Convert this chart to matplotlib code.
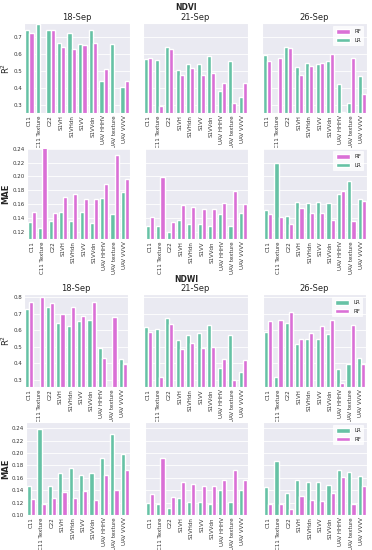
import numpy as np
import matplotlib
matplotlib.use("Agg")
import matplotlib.pyplot as plt
import seaborn as sns

sns.set_style("darkgrid")
plt.rcParams['font.family'] = ['DejaVu Sans']

features = ['C11', 'C11 Texture', 'C22', 'S1VH', 'S1VHdn', 'S1VV', 'S1VVdn',
            'UAV HHHV', 'UAV texture', 'UAV VVVV']
dates = ['18-Sep', '21-Sep', '26-Sep']
nan = np.nan

# NDVI R2  (LR, RF) per date
ndvi_r2_lr = [
    [0.741, 0.772, 0.737, 0.661, 0.721, 0.659, 0.739, 0.440, 0.659, 0.405],
    [0.569, 0.565, 0.639, 0.505, 0.538, 0.540, 0.587, 0.378, 0.559, 0.343],
    [0.593, nan, 0.636, 0.522, 0.544, 0.536, 0.554, 0.419, 0.309, 0.468],
]
ndvi_r2_rf = [
    [0.723, nan, 0.737, 0.636, 0.626, 0.649, 0.663, 0.510, nan, 0.436],
    [0.573, 0.292, 0.624, 0.475, 0.514, 0.473, 0.483, 0.428, 0.311, 0.427],
    [0.554, 0.575, 0.632, 0.471, 0.528, 0.544, 0.595, 0.257, 0.575, 0.360],
]
# NDVI MAE
ndvi_mae_lr = [
    [0.134, 0.126, 0.136, 0.149, 0.136, 0.149, 0.133, 0.169, 0.146, 0.178],
    [0.129, 0.128, 0.120, 0.137, 0.131, 0.131, 0.128, 0.146, 0.128, 0.147],
    [0.152, 0.219, 0.143, 0.163, 0.162, 0.163, 0.162, 0.175, 0.193, 0.167],
]
ndvi_mae_rf = [
    [0.149, 0.245, 0.147, 0.171, 0.175, 0.168, 0.167, 0.189, 0.231, 0.197],
    [0.141, 0.199, 0.135, 0.159, 0.156, 0.153, 0.153, 0.162, 0.179, 0.160],
    [0.146, 0.141, 0.132, 0.155, 0.147, 0.148, 0.138, 0.179, 0.136, 0.165],
]
# NDWI R2
ndwi_r2_lr = [
    [0.731, nan, 0.739, 0.644, 0.624, 0.656, 0.664, 0.490, nan, 0.425],
    [0.620, 0.608, 0.674, 0.543, 0.573, 0.581, 0.632, 0.373, 0.569, 0.345],
    [0.591, 0.318, 0.646, 0.515, 0.547, 0.547, 0.579, 0.367, 0.397, 0.432],
]
ndwi_r2_rf = [
    [0.770, 0.804, 0.766, 0.701, 0.741, 0.685, 0.770, 0.430, 0.679, 0.393],
    [0.591, 0.318, 0.636, 0.488, 0.525, 0.490, 0.500, 0.425, 0.300, 0.421],
    [0.654, 0.662, 0.709, 0.549, 0.585, 0.624, 0.664, 0.282, 0.634, 0.395],
]
# NDWI MAE
ndwi_mae_lr = [
    [0.147, 0.239, 0.147, 0.168, 0.176, 0.165, 0.167, 0.192, 0.231, 0.198],
    [0.119, 0.118, 0.111, 0.127, 0.121, 0.121, 0.117, 0.140, 0.121, 0.140],
    [0.145, 0.187, 0.135, 0.156, 0.153, 0.153, 0.149, 0.173, 0.170, 0.163],
]
ndwi_mae_rf = [
    [0.126, 0.117, 0.127, 0.137, 0.128, 0.139, 0.124, 0.164, 0.140, 0.172],
    [0.134, 0.192, 0.129, 0.153, 0.150, 0.147, 0.147, 0.157, 0.173, 0.156],
    [0.118, 0.118, 0.109, 0.131, 0.125, 0.123, 0.136, 0.161, 0.117, 0.146],
]

c_lr = '#66c2a5'
c_rf = '#da70d6'

W, H = 372, 550
fig = plt.figure(figsize=(W / 100, H / 100), dpi=100)


def add_ax(x0, x1, top, bottom, sharey=None):
    return fig.add_axes([x0 / W, 1 - bottom / H, (x1 - x0) / W, (bottom - top) / H], sharey=sharey)


def draw_row(top, bottom, cols, lr, rf, ylim, yticks, ylabel, legend_order, title=False, bold_label=False):
    x = np.arange(len(features))
    first = None
    for i, (x0, x1) in enumerate(cols):
        ax = add_ax(x0, x1, top, bottom, sharey=first)
        if first is None:
            first = ax
        b1 = ax.bar(x - 0.2, lr[i], 0.4, color=c_lr, label='LR')
        b2 = ax.bar(x + 0.2, rf[i], 0.4, color=c_rf, label='RF')
        ax.set_xlim(-0.5, len(features) - 0.5)
        ax.set_ylim(*ylim)
        ax.set_yticks(yticks)
        ax.grid(axis='x', visible=False)
        ax.grid(axis='y', color='white', linewidth=0.6)
        ax.set_xticks(x)
        ax.set_xticklabels(features, rotation=90, fontsize=4, color='#333333')
        ax.tick_params(axis='both', length=0, pad=1.5)
        ax.tick_params(axis='y', labelsize=4, labelcolor='#333333')
        if i != 0:
            ax.tick_params(axis='y', labelleft=False)
        if title:
            ax.set_title(dates[i], fontsize=6, pad=2)
        if i == 2:
            handles = {'LR': b1, 'RF': b2}
            ax.legend([handles[k] for k in legend_order], legend_order, loc='upper right',
                      fontsize=4, frameon=True, facecolor='white', edgecolor='none',
                      handlelength=2.4, handleheight=0.9, borderpad=0.6, labelspacing=0.6)
    fig.text(6 / W, 1 - (top + bottom) / 2 / H, ylabel, rotation=90, ha='center', va='center',
             fontsize=6, fontweight='bold' if bold_label else 'normal')


draw_row(23, 113, [(24, 130), (143, 248), (262, 367)], ndvi_r2_lr, ndvi_r2_rf,
         (0.25, 0.78), [0.3, 0.4, 0.5, 0.6, 0.7], 'R$^2$', ['RF', 'LR'], title=True)
draw_row(148, 239, [(27, 130), (145, 248), (263, 367)], ndvi_mae_lr, ndvi_mae_rf,
         (0.11, 0.241), [0.12, 0.14, 0.16, 0.18, 0.20, 0.22, 0.24], 'MAE', ['RF', 'LR'], bold_label=True)
draw_row(294, 387, [(24, 128), (143, 248), (263, 366)], ndwi_r2_lr, ndwi_r2_rf,
         (0.255, 0.82), [0.3, 0.4, 0.5, 0.6, 0.7, 0.8], 'R$^2$', ['LR', 'RF'], title=True)
draw_row(422, 515, [(26, 130), (145, 248), (263, 367)], ndwi_mae_lr, ndwi_mae_rf,
         (0.10, 0.25), [0.10, 0.12, 0.14, 0.16, 0.18, 0.20, 0.22, 0.24], 'MAE', ['LR', 'RF'], bold_label=True)

fig.text(0.5, 1 - 7 / H, 'NDVI', ha='center', va='center', fontsize=5.5, fontweight='bold')
fig.text(0.5, 1 - 279 / H, 'NDWI', ha='center', va='center', fontsize=5.5, fontweight='bold')

fig.savefig('out.png', dpi=100, facecolor='white')
